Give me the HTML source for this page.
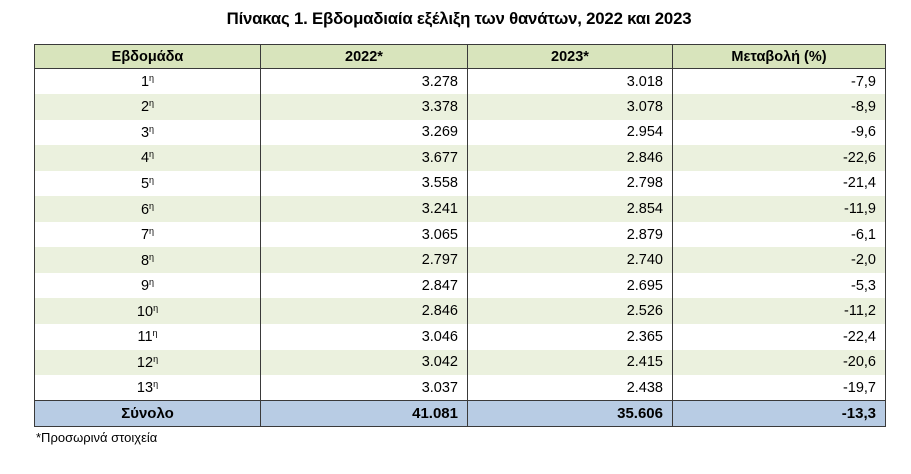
<!DOCTYPE html>
<html><head><meta charset="utf-8"><style>
body{margin:0;width:911px;height:474px;background:#fff;font-family:"Liberation Sans","DejaVu Sans",sans-serif;color:#000;position:relative;overflow:hidden}
.title{position:absolute;left:0;width:918px;top:9px;text-align:center;font-weight:bold;font-size:16.8px;letter-spacing:-0.2px}
table{position:absolute;left:34px;top:44px;border-collapse:collapse;font-size:14.5px}
td,th{border:1px solid #3a3a3a;height:25.55px;padding:0 9px;box-sizing:border-box}
th{background:#d8e4bc;font-weight:bold;text-align:center;height:24px}
td{text-align:right}
td:first-child{text-align:center}
tr.g td{background:#ebf1de}
tr.t td{background:#b8cce4;font-weight:bold;font-size:15px}
tr td{border-top:none;border-bottom:none}
tr.t td{border-top:1px solid #3a3a3a;border-bottom:1px solid #3a3a3a}
sup{font-size:9px;vertical-align:5px}
.foot{position:absolute;left:36px;top:430px;font-size:13px}
</style></head><body>
<div class="title">Πίνακας 1. Εβδομαδιαία εξέλιξη των θανάτων, 2022 και 2023</div>
<table>
<colgroup><col style="width:226px"><col style="width:207px"><col style="width:205px"><col style="width:213px"></colgroup>
<tr><th>Εβδομάδα</th><th>2022*</th><th>2023*</th><th>Μεταβολή (%)</th></tr>
<tr><td>1<sup>η</sup></td><td>3.278</td><td>3.018</td><td>-7,9</td></tr>
<tr class="g"><td>2<sup>η</sup></td><td>3.378</td><td>3.078</td><td>-8,9</td></tr>
<tr><td>3<sup>η</sup></td><td>3.269</td><td>2.954</td><td>-9,6</td></tr>
<tr class="g"><td>4<sup>η</sup></td><td>3.677</td><td>2.846</td><td>-22,6</td></tr>
<tr><td>5<sup>η</sup></td><td>3.558</td><td>2.798</td><td>-21,4</td></tr>
<tr class="g"><td>6<sup>η</sup></td><td>3.241</td><td>2.854</td><td>-11,9</td></tr>
<tr><td>7<sup>η</sup></td><td>3.065</td><td>2.879</td><td>-6,1</td></tr>
<tr class="g"><td>8<sup>η</sup></td><td>2.797</td><td>2.740</td><td>-2,0</td></tr>
<tr><td>9<sup>η</sup></td><td>2.847</td><td>2.695</td><td>-5,3</td></tr>
<tr class="g"><td>10<sup>η</sup></td><td>2.846</td><td>2.526</td><td>-11,2</td></tr>
<tr><td>11<sup>η</sup></td><td>3.046</td><td>2.365</td><td>-22,4</td></tr>
<tr class="g"><td>12<sup>η</sup></td><td>3.042</td><td>2.415</td><td>-20,6</td></tr>
<tr><td>13<sup>η</sup></td><td>3.037</td><td>2.438</td><td>-19,7</td></tr>
<tr class="t"><td>Σύνολο</td><td>41.081</td><td>35.606</td><td>-13,3</td></tr>
</table>
<div class="foot">*Προσωρινά στοιχεία</div>
</body></html>
